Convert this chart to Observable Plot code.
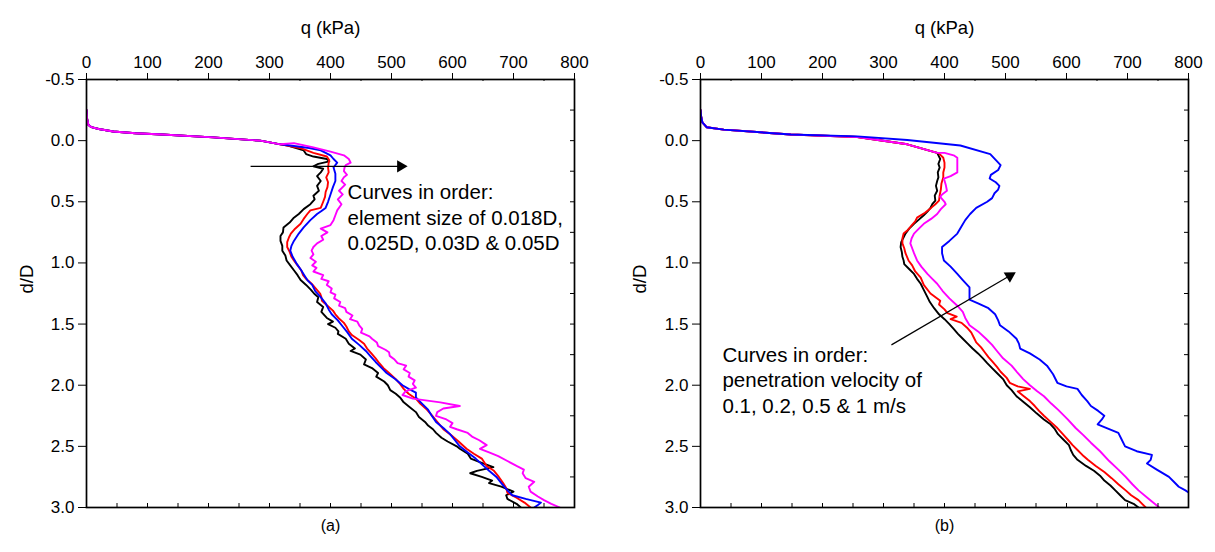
<!DOCTYPE html>
<html>
<head>
<meta charset="utf-8">
<script src="https://cdn.jsdelivr.net/npm/d3@7"></script>
<script src="https://cdn.jsdelivr.net/npm/@observablehq/plot@0.6"></script>
<style>
  html, body { margin: 0; padding: 0; background: #fff; }
  #wrap { display: flex; width: 1215px; height: 552px; }
  svg { font-family: "Liberation Sans", Arial, sans-serif; }
</style>
</head>
<body>
<div id="wrap"></div>
<script>
// ---------- axis ticks ----------
const xMajor = [0, 100, 200, 300, 400, 500, 600, 700, 800];
const xMinor = [50, 150, 250, 350, 450, 550, 650, 750];
const xAll = [50, 100, 150, 200, 250, 300, 350, 400, 450, 500, 550, 600, 650, 700, 750];
const yMajor = [-0.5, 0.0, 0.5, 1.0, 1.5, 2.0, 2.5, 3.0];
const yAll = [-0.25, 0, 0.25, 0.5, 0.75, 1.0, 1.25, 1.5, 1.75, 2.0, 2.25, 2.5, 2.75];

const seriesNames = ["s1", "s2", "s3", "s4"];
const seriesColors = ["#000000", "#ff0000", "#0000ff", "#ff00ff"];

// ---------- panel (a): element size, [q (kPa), d/D] ----------
const aStart = [[0,-0.25],[1,-0.18],[3,-0.13],[8,-0.11],[20,-0.095],[44,-0.075],[80,-0.06],[124,-0.05],[208,-0.027],[285,0.0],[318,0.03]];
const aBlack = [[330,0.04],[356,0.08],[360,0.11],[372,0.13],[394,0.15],[398,0.17],[380,0.19],[372,0.21],[388,0.23],[384,0.26],[378,0.29],[384,0.33],[378,0.37],[381,0.41],[372,0.45],[374,0.48],[367,0.52],[356,0.56],[348,0.60],[340,0.63],[333,0.67],[323,0.71],[322,0.75],[318,0.78],[318,0.82],[321,0.86],[321,0.90],[326,0.94],[328,0.98],[334,1.02],[340,1.06],[346,1.10],[351,1.14],[360,1.18],[368,1.22],[373,1.25],[380,1.28],[378,1.32],[388,1.36],[385,1.40],[394,1.45],[404,1.48],[396,1.50],[408,1.53],[413,1.56],[412,1.58],[425,1.62],[430,1.66],[440,1.70],[433,1.72],[449,1.75],[458,1.79],[455,1.83],[468,1.86],[478,1.90],[475,1.93],[488,1.97],[494,2.00],[498,2.04],[507,2.07],[514,2.10],[520,2.14],[530,2.18],[540,2.22],[545,2.26],[555,2.30],[560,2.33],[568,2.36],[573,2.39],[582,2.43],[592,2.46],[607,2.50],[612,2.52],[625,2.56],[630,2.60],[650,2.64],[667,2.67],[640,2.70],[629,2.72],[648,2.75],[665,2.78],[660,2.80],[680,2.83],[700,2.87],[688,2.90],[690,2.93],[705,2.97],[712,3.0]];
const aRed = [[350,0.06],[372,0.10],[394,0.13],[398,0.16],[397,0.18],[396,0.22],[397,0.26],[393,0.30],[396,0.34],[395,0.38],[392,0.42],[391,0.46],[388,0.50],[384,0.55],[367,0.57],[362,0.60],[356,0.64],[351,0.68],[342,0.72],[335,0.76],[332,0.79],[329,0.83],[329,0.87],[333,0.91],[336,0.95],[340,0.98],[346,1.02],[352,1.06],[355,1.10],[360,1.13],[369,1.17],[376,1.21],[383,1.25],[385,1.28],[386,1.31],[395,1.35],[404,1.39],[408,1.42],[413,1.45],[422,1.49],[426,1.52],[430,1.56],[435,1.59],[447,1.63],[455,1.66],[460,1.70],[467,1.74],[474,1.78],[480,1.82],[487,1.86],[496,1.90],[507,1.95],[514,1.99],[520,2.03],[528,2.07],[540,2.11],[547,2.15],[558,2.20],[567,2.25],[575,2.30],[585,2.36],[598,2.41],[610,2.46],[623,2.52],[635,2.56],[648,2.60],[656,2.66],[668,2.70],[676,2.75],[683,2.80],[688,2.84],[690,2.88],[705,2.92],[718,2.96],[728,3.0]];
const aBlue = [[365,0.06],[384,0.08],[400,0.12],[405,0.15],[411,0.18],[405,0.22],[408,0.27],[408,0.33],[404,0.38],[400,0.44],[396,0.50],[392,0.55],[384,0.58],[378,0.60],[367,0.65],[356,0.71],[348,0.76],[340,0.82],[336,0.86],[334,0.90],[338,0.95],[345,1.01],[352,1.06],[357,1.10],[362,1.14],[370,1.18],[375,1.23],[384,1.28],[392,1.33],[397,1.38],[402,1.42],[412,1.47],[420,1.52],[428,1.57],[435,1.62],[447,1.67],[458,1.72],[465,1.76],[474,1.81],[484,1.86],[492,1.90],[506,1.95],[518,2.00],[528,2.03],[540,2.06],[540,2.10],[550,2.15],[560,2.20],[566,2.25],[573,2.30],[585,2.35],[596,2.40],[604,2.45],[612,2.50],[625,2.55],[638,2.60],[651,2.66],[660,2.70],[672,2.75],[680,2.80],[690,2.86],[698,2.90],[720,2.93],[745,2.96],[740,2.98],[734,3.0]];
const aMagenta = [[340,0.02],[372,0.055],[400,0.09],[422,0.12],[430,0.15],[433,0.18],[425,0.20],[423,0.22],[422,0.25],[427,0.28],[422,0.30],[418,0.33],[424,0.36],[414,0.41],[420,0.44],[412,0.48],[418,0.52],[411,0.57],[408,0.61],[405,0.65],[400,0.69],[384,0.72],[395,0.75],[385,0.78],[388,0.81],[378,0.84],[372,0.87],[369,0.90],[372,0.93],[367,0.96],[376,0.99],[370,1.02],[377,1.04],[372,1.07],[388,1.10],[385,1.13],[397,1.15],[394,1.18],[402,1.21],[400,1.24],[408,1.26],[406,1.29],[416,1.32],[414,1.35],[424,1.37],[426,1.40],[436,1.43],[432,1.46],[444,1.48],[447,1.51],[452,1.54],[450,1.57],[464,1.60],[468,1.62],[476,1.65],[478,1.68],[490,1.71],[496,1.73],[497,1.76],[505,1.79],[510,1.82],[524,1.84],[520,1.87],[530,1.90],[528,1.93],[538,1.96],[535,1.99],[540,2.02],[523,2.05],[518,2.08],[535,2.11],[580,2.14],[612,2.17],[585,2.19],[575,2.22],[573,2.25],[590,2.28],[600,2.31],[596,2.34],[607,2.36],[625,2.39],[632,2.42],[644,2.45],[656,2.49],[645,2.52],[660,2.55],[675,2.58],[690,2.62],[705,2.66],[717,2.69],[715,2.72],[720,2.76],[734,2.79],[725,2.83],[728,2.87],[740,2.91],[750,2.94],[762,2.97],[776,3.0]];

// ---------- panel (b): penetration velocity, [q (kPa), d/D] ----------
const bStart = [[0,-0.25],[1,-0.2],[3,-0.15],[10,-0.11],[38,-0.09],[148,-0.05],[257,-0.03],[339,0.03],[388,0.10]];
const bBlueStart = [[0,-0.25],[1,-0.2],[3,-0.15],[10,-0.11],[38,-0.09],[148,-0.05],[257,-0.035],[339,-0.005],[426,0.04],[475,0.11]];
const bBlack = [[393,0.15],[390,0.19],[392,0.22],[389,0.26],[390,0.30],[388,0.33],[386,0.37],[388,0.41],[384,0.45],[385,0.49],[380,0.52],[377,0.55],[372,0.58],[366,0.61],[357,0.65],[350,0.68],[342,0.72],[336,0.76],[333,0.79],[329,0.83],[328,0.87],[330,0.91],[331,0.95],[333,0.98],[334,1.01],[342,1.05],[350,1.09],[355,1.13],[361,1.17],[366,1.22],[372,1.28],[376,1.32],[383,1.37],[391,1.42],[400,1.46],[408,1.50],[415,1.54],[422,1.58],[430,1.62],[438,1.66],[446,1.70],[455,1.74],[463,1.78],[470,1.82],[478,1.86],[486,1.90],[496,1.95],[502,2.00],[510,2.04],[518,2.09],[530,2.14],[540,2.18],[551,2.23],[563,2.28],[574,2.32],[581,2.36],[586,2.40],[596,2.45],[604,2.49],[607,2.53],[611,2.57],[618,2.61],[632,2.66],[645,2.70],[655,2.74],[662,2.78],[672,2.82],[680,2.86],[688,2.90],[696,2.94],[710,2.97],[718,3.0]];
const bRed = [[390,0.10],[398,0.14],[400,0.18],[400,0.22],[398,0.26],[398,0.30],[395,0.35],[394,0.40],[392,0.45],[391,0.49],[385,0.52],[378,0.55],[368,0.59],[355,0.63],[352,0.66],[345,0.70],[340,0.73],[333,0.76],[331,0.80],[331,0.84],[334,0.88],[336,0.92],[341,0.98],[347,1.02],[352,1.07],[361,1.12],[366,1.18],[377,1.25],[393,1.31],[391,1.34],[400,1.38],[405,1.41],[420,1.44],[410,1.46],[428,1.49],[437,1.53],[444,1.57],[448,1.61],[452,1.65],[460,1.69],[466,1.73],[472,1.77],[479,1.81],[486,1.85],[492,1.89],[502,1.94],[507,1.98],[520,2.01],[540,2.03],[520,2.05],[530,2.09],[540,2.13],[548,2.17],[555,2.21],[563,2.25],[574,2.30],[585,2.35],[594,2.40],[603,2.45],[610,2.49],[618,2.53],[626,2.57],[635,2.61],[648,2.66],[662,2.71],[674,2.76],[685,2.81],[697,2.86],[706,2.90],[718,2.94],[724,2.97],[730,3.0]];
const bMagenta = [[400,0.10],[415,0.12],[421,0.14],[421,0.20],[421,0.26],[410,0.29],[399,0.31],[402,0.36],[404,0.41],[396,0.44],[393,0.46],[400,0.50],[402,0.52],[394,0.56],[388,0.60],[378,0.64],[366,0.68],[358,0.72],[350,0.76],[346,0.80],[344,0.84],[347,0.88],[350,0.92],[355,0.98],[362,1.03],[372,1.09],[380,1.13],[388,1.17],[397,1.23],[408,1.29],[421,1.35],[430,1.40],[434,1.45],[441,1.51],[455,1.56],[468,1.62],[478,1.67],[486,1.72],[496,1.78],[510,1.84],[520,1.90],[529,1.95],[540,2.00],[552,2.05],[563,2.09],[575,2.15],[586,2.20],[602,2.28],[615,2.35],[628,2.41],[640,2.47],[655,2.54],[670,2.62],[685,2.69],[697,2.75],[708,2.81],[718,2.86],[735,2.93],[752,3.0]];
const bBlue = [[492,0.20],[488,0.24],[476,0.28],[474,0.31],[484,0.34],[490,0.37],[488,0.40],[482,0.43],[478,0.47],[470,0.50],[452,0.55],[442,0.60],[434,0.65],[428,0.70],[421,0.76],[408,0.82],[396,0.87],[396,0.92],[399,0.98],[410,1.03],[421,1.09],[430,1.14],[441,1.20],[441,1.25],[441,1.30],[455,1.33],[472,1.37],[483,1.42],[488,1.47],[491,1.51],[505,1.56],[518,1.62],[522,1.66],[524,1.70],[540,1.74],[556,1.79],[568,1.84],[578,1.91],[585,1.98],[600,2.01],[618,2.03],[625,2.08],[634,2.13],[640,2.17],[652,2.21],[662,2.25],[658,2.28],[651,2.32],[670,2.36],[685,2.39],[690,2.44],[696,2.50],[715,2.54],[740,2.57],[738,2.61],[732,2.64],[748,2.69],[768,2.75],[778,2.80],[784,2.83],[795,2.86],[810,2.91]];

// ---------- annotations ----------
const arrowA = [{x1: 269, y1: 0.21, x2: 515, y2: 0.21}];
const arrowB = [{x1: 313, y1: 1.67, x2: 507, y2: 1.105}];
const noteA = [{q: 428, d: 0.62, t: "Curves in order:\nelement size of 0.018D,\n0.025D, 0.03D & 0.05D"}];
const noteB = [{q: 36, d: 1.95, t: "Curves in order:\npenetration velocity of\n0.1, 0.2, 0.5 & 1 m/s"}];
const xLabel = "q (kPa)";
const yLabel = "d/D";

function rows(list) {
  const out = [];
  list.forEach(([name, pts]) => pts.forEach(([q, d]) => out.push({q, d, s: name})));
  return out;
}
const dataA = rows([
  ["s1", aStart.concat(aBlack)],
  ["s2", aStart.concat(aRed)],
  ["s3", aStart.concat(aBlue)],
  ["s4", aStart.concat(aMagenta)]
]);
const dataB = rows([
  ["s1", bStart.concat(bBlack)],
  ["s2", bStart.concat(bRed)],
  ["s4", bStart.concat(bMagenta)],
  ["s3", bBlueStart.concat(bBlue)]
]);

function panel({data, width, marginLeft, marginRight, arrow, arrowRotate, note, caption, yLabelDx}) {
  const H = 552, mt = 79, mb = 45;
  const pw = width - marginLeft - marginRight, ph = H - mt - mb;
  return Plot.plot({
    width, height: H, marginLeft, marginRight, marginTop: mt, marginBottom: mb,
    style: {fontFamily: "'Liberation Sans', Arial, sans-serif", fontSize: "17px", background: "#fff", color: "#000"},
    x: {domain: [0, 800]},
    y: {domain: [-0.5, 3.0], reverse: true},
    color: {type: "ordinal", domain: seriesNames, range: seriesColors},
    marks: [
      Plot.line(data, {x: "q", y: "d", z: "s", stroke: "s", strokeWidth: 1.9, clip: true, strokeLinejoin: "round"}),
      Plot.frame({stroke: "#000", strokeWidth: 1.7}),
      Plot.axisX({anchor: "top", ticks: xMajor, tickSize: 7, tickPadding: 5, tickFormat: d => String(d), label: null, fontSize: 17}),
      Plot.tickX(xMinor, {x: d => d, insetBottom: ph - 2, stroke: "#000"}),
      Plot.tickX(xAll, {x: d => d, insetTop: ph - 4, stroke: "#000"}),
      Plot.axisY({anchor: "left", ticks: yMajor, tickSize: 8, tickPadding: 4, tickFormat: d => d.toFixed(1), label: null, fontSize: 17}),
      Plot.tickY(yAll, {y: d => d, insetLeft: pw - 4, stroke: "#000"}),
      Plot.text([xLabel], {frameAnchor: "top", dy: -59, text: d => d, fontSize: 18.5}),
      Plot.text([yLabel], {frameAnchor: "left", dx: yLabelDx, rotate: -90, text: d => d, fontSize: 18.5}),
      Plot.text([caption], {frameAnchor: "bottom", dy: 23, text: d => d, fontSize: 16}),
      Plot.link(arrow, {x1: "x1", y1: "y1", x2: "x2", y2: "y2", stroke: "#000", strokeWidth: 1.2}),
      Plot.dot(arrow, {x: "x2", y: "y2", symbol: "triangle", r: 4.5, fill: "#000", stroke: null, rotate: arrowRotate}),
      Plot.text(note, {x: "q", y: "d", text: "t", textAnchor: "start", lineAnchor: "middle", lineHeight: 1.25, fontSize: 20.5})
    ]
  });
}

const wrap = document.getElementById("wrap");
wrap.appendChild(panel({data: dataA, width: 610, marginLeft: 86, marginRight: 36, arrow: arrowA, arrowRotate: 90, note: noteA, caption: "(a)", yLabelDx: -59}));
wrap.appendChild(panel({data: dataB, width: 605, marginLeft: 90, marginRight: 27, arrow: arrowB, arrowRotate: 59, note: noteB, caption: "(b)", yLabelDx: -60}));
</script>
</body>
</html>
